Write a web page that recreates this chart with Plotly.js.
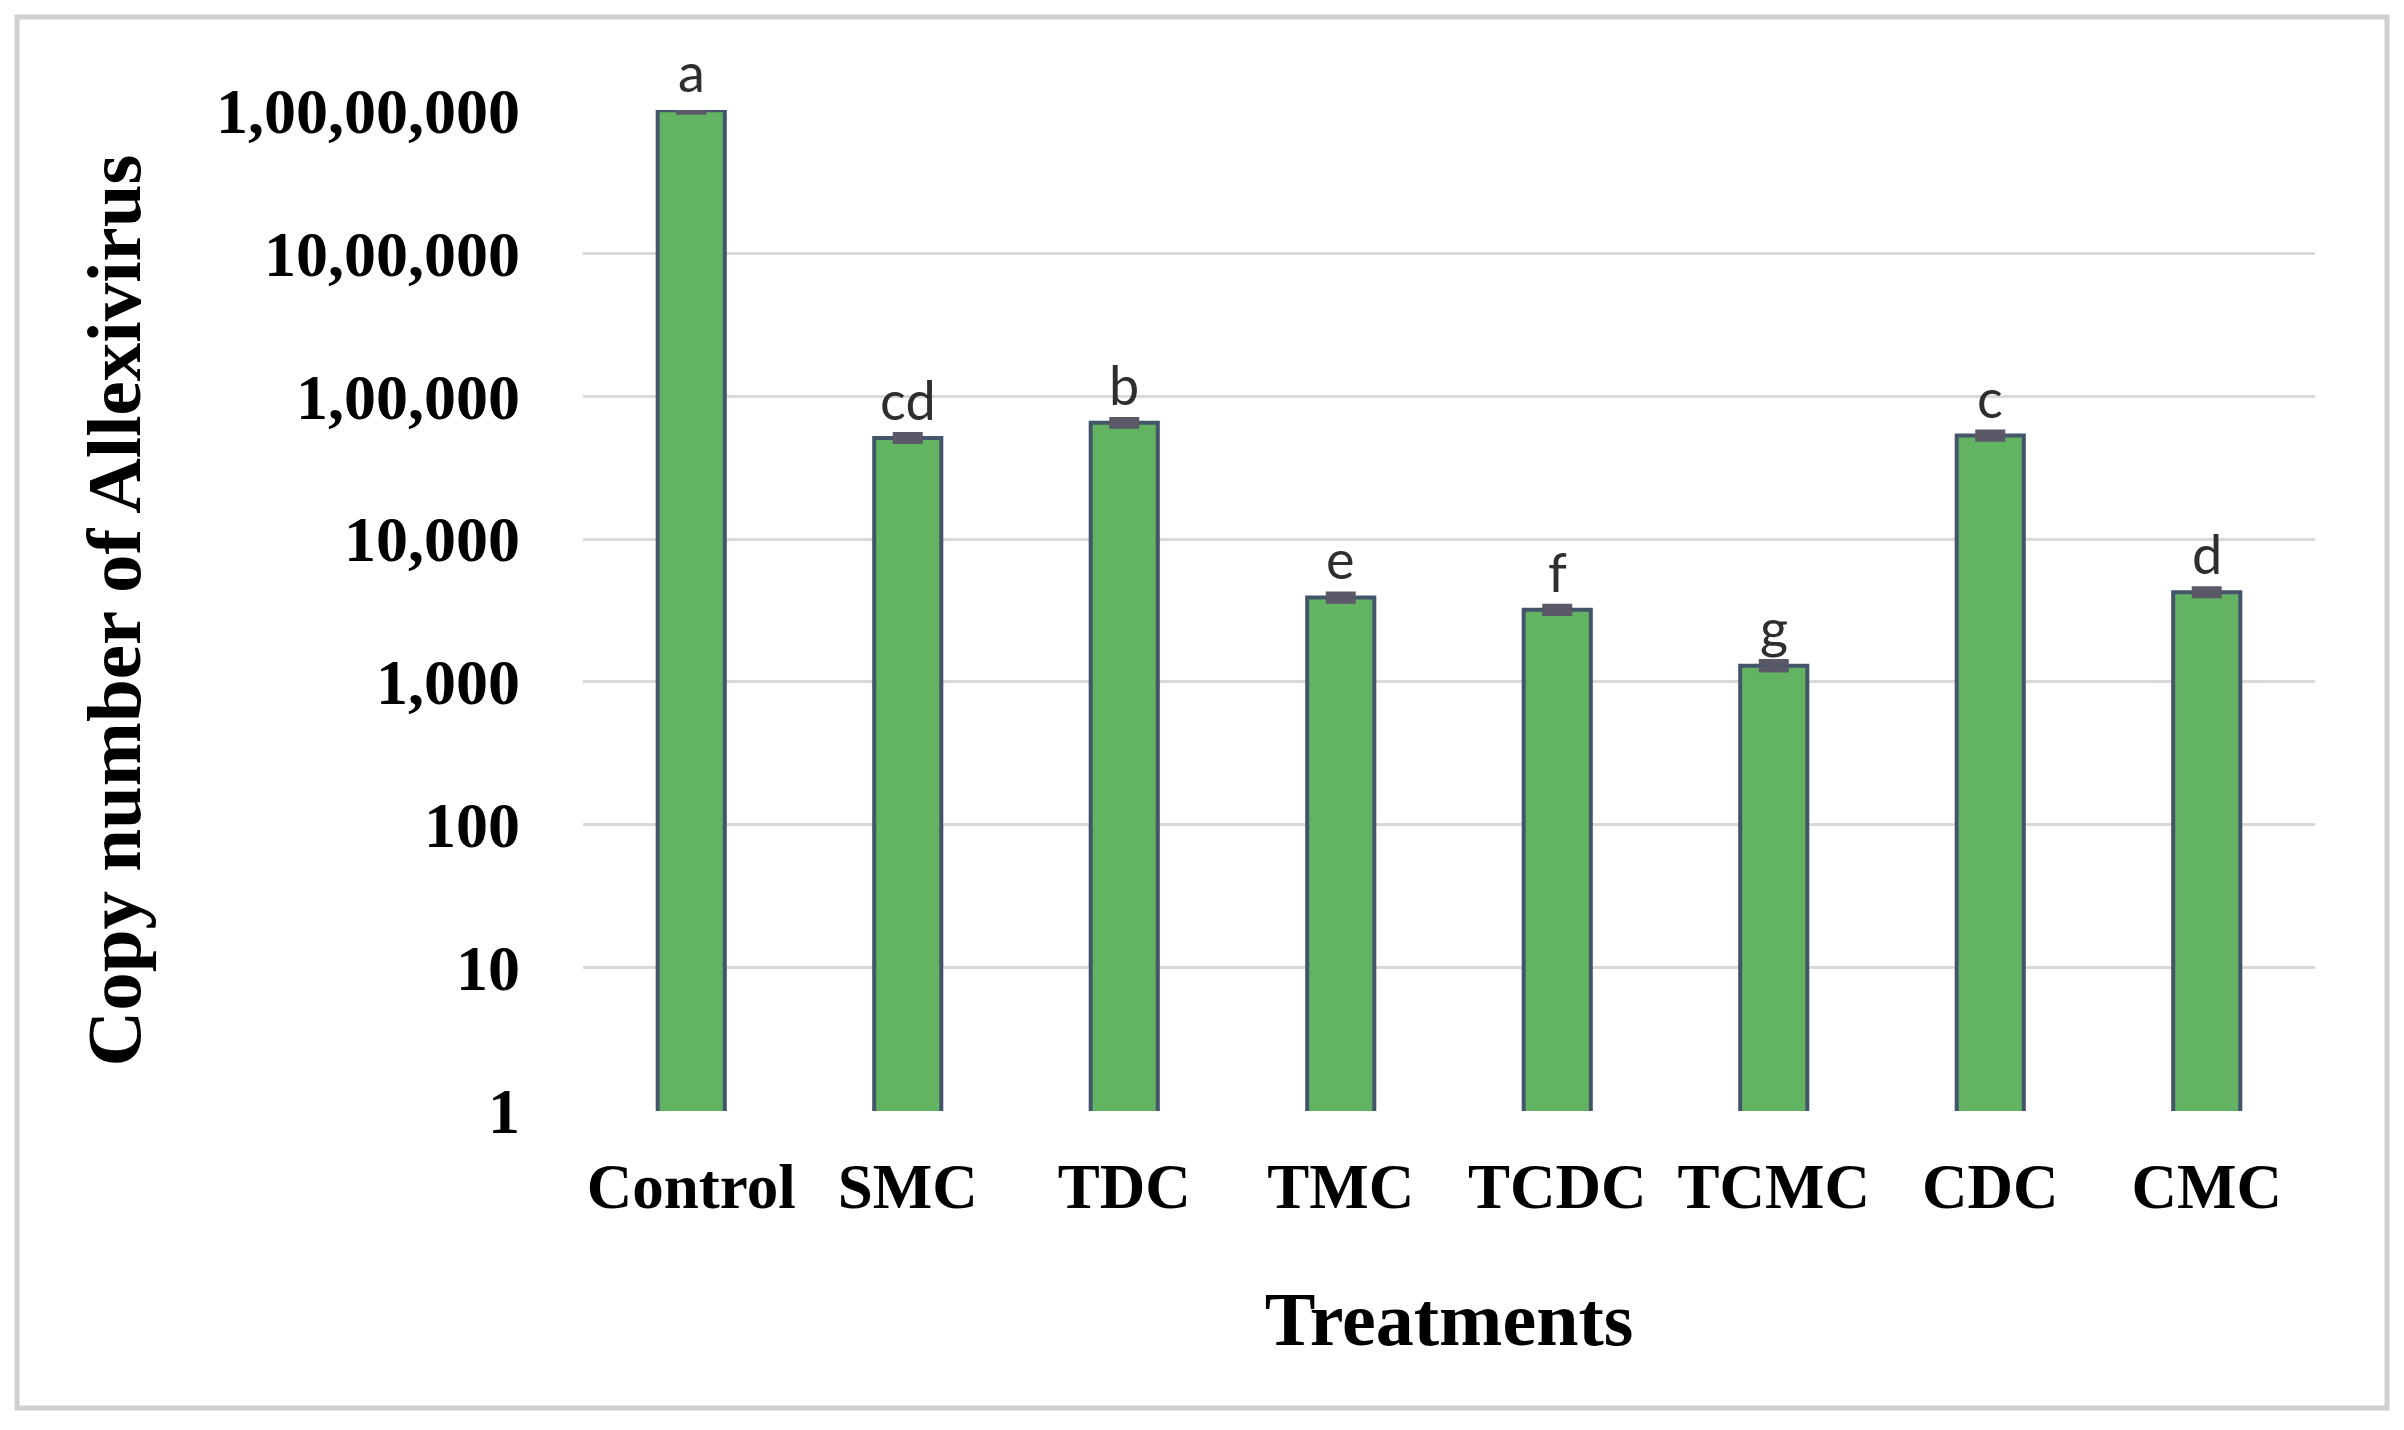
<!DOCTYPE html>
<html>
<head>
<meta charset="utf-8">
<script src="https://cdn.plot.ly/plotly-3.0.1.min.js"></script>
<style>
  html, body { margin: 0; padding: 0; background: #ffffff; }
  #chart { width: 2404px; height: 1430px; }
</style>
</head>
<body>
<div id="chart"></div>
<script>
// ---- data ----
const categories = ['Control', 'SMC', 'TDC', 'TMC', 'TCDC', 'TCMC', 'CDC', 'CMC'];
const copyNumbers = [10000000, 51000, 65000, 3900, 3200, 1300, 53000, 4250];
const errorValues = [250000, 2500, 3000, 200, 160, 80, 2600, 210];
const groupLetters = ['a', 'cd', 'b', 'e', 'f', 'g', 'c', 'd'];
const yTickVals = [1, 10, 100, 1000, 10000, 100000, 1000000, 10000000];
const yTickText = ['1', '10', '100', '1,000', '10,000', '1,00,000', '10,00,000', '1,00,00,000'];

const serif = 'Liberation Serif, Times New Roman, serif';

const trace = {
  type: 'bar',
  x: categories,
  y: copyNumbers,
  width: 0.31,
  marker: {
    color: '#62b462',
    line: { color: '#44546a', width: 4 }
  },
  error_y: {
    type: 'data',
    array: errorValues,
    visible: true,
    color: '#5b5868',
    thickness: 6,
    width: 15
  },
  cliponaxis: false,
  hoverinfo: 'x+y'
};

const annotations = categories.map((c, i) => ({
  x: c,
  y: Math.log10(copyNumbers[i]),
  xref: 'x',
  yref: 'y',
  text: groupLetters[i],
  showarrow: false,
  yanchor: 'bottom',
  yshift: 4,
  font: { family: 'Lato, Open Sans, sans-serif', size: 54, color: '#2e2e2e' }
}));

const layout = {
  width: 2404,
  height: 1430,
  margin: { l: 583, r: 89, t: 110, b: 319 },
  paper_bgcolor: '#ffffff',
  plot_bgcolor: '#ffffff',
  showlegend: false,
  xaxis: {
    type: 'category',
    range: [-0.5, 7.5],
    showgrid: false,
    showline: false,
    zeroline: false,
    ticks: '',
    ticklabelstandoff: 33,
    tickfont: { family: serif, size: 63, color: '#000000', weight: 'bold' },
    title: {
      text: 'Treatments',
      standoff: 70,
      font: { family: serif, size: 76, color: '#000000', weight: 'bold' }
    }
  },
  yaxis: {
    type: 'log',
    range: [-0.002, 7.002],
    tickmode: 'array',
    tickvals: yTickVals,
    ticktext: yTickText,
    showgrid: true,
    gridcolor: '#d9d9d9',
    gridwidth: 3,
    showline: false,
    zeroline: false,
    ticks: '',
    ticklabelstandoff: 62,
    tickfont: { family: serif, size: 64, color: '#000000', weight: 'bold' },
    title: {
      text: 'Copy number of Allexivirus',
      standoff: 50,
      font: { family: serif, size: 77, color: '#000000', weight: 'bold' }
    }
  },
  annotations: annotations,
  shapes: [{
    type: 'rect',
    xref: 'paper',
    yref: 'paper',
    x0: (17 - 583) / 1732,
    x1: (2387 - 583) / 1732,
    y0: (1111 - 1408) / 1001,
    y1: (1111 - 17) / 1001,
    line: { color: '#d0d0d0', width: 5 },
    fillcolor: 'rgba(0,0,0,0)',
    layer: 'below'
  }]
};

Plotly.newPlot('chart', [trace], layout, { displayModeBar: false, staticPlot: true });
</script>
</body>
</html>
